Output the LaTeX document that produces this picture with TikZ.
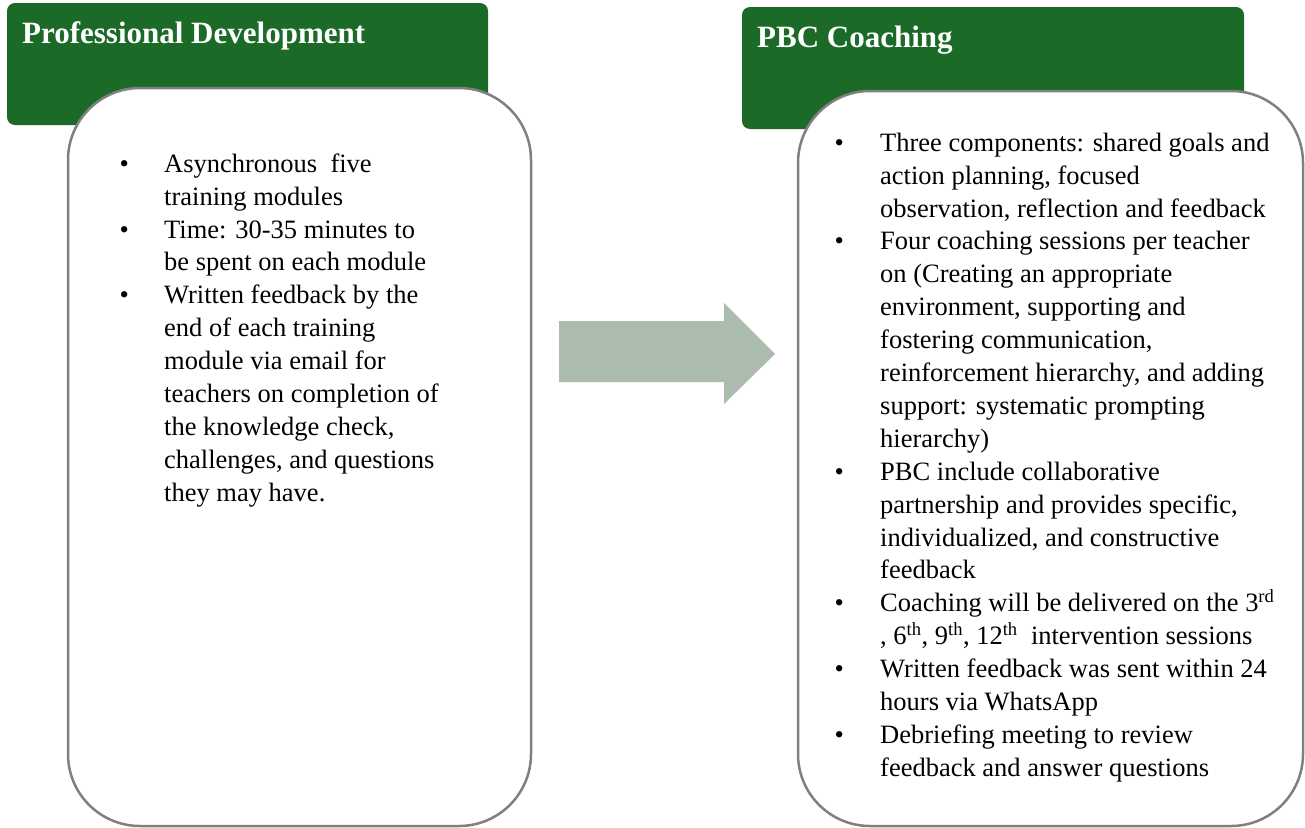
\documentclass[tikz,border=0pt]{standalone}
\usepackage{fontspec}
\setmainfont{Liberation Serif}
\definecolor{hdrgreen}{RGB}{28,106,40}
\definecolor{boxgray}{RGB}{128,128,128}
\definecolor{arrowsage}{RGB}{171,188,173}
\newcommand{\bul}[1]{\llap{\textbullet\hspace{#1}}}
\begin{document}
\begin{tikzpicture}[x=1pt,y=-1pt,
  header/.style={fill=hdrgreen,draw=none,rounded corners=8pt,inner sep=0pt},
  panel/.style={fill=white,draw=boxgray,line width=2.5pt,rounded corners=72pt,inner sep=0pt},
  htitle/.style={text=white,font=\fontsize{31}{37}\selectfont\bfseries,inner sep=0pt,anchor=base west},
  body/.style={font=\fontsize{26.5}{32.9}\selectfont,align=left,inner sep=0pt,anchor=north west,text=black},
  blockarrow/.style={fill=arrowsage,draw=none}]
\useasboundingbox (0,0) rectangle (1305,827);

% Left column
\node[header,minimum width=481pt,minimum height=122pt] (pdhead) at (247.5,64) {};
\node[htitle] (pdtitle) at (22,43) {Professional Development};
\node[panel,minimum width=463pt,minimum height=738pt] (pdbox) at (299.5,457) {};
\node[body] (pdtext) at (164,152) {\rule{0pt}{20pt}\bul{35.4pt}Asynchronous\ \ five\\
training modules\\
\bul{35.4pt}Time: 30-35 minutes to\\
be spent on each module\\
\bul{35.4pt}Written feedback by the\\
end of each training\\
module via email for\\
teachers on completion of\\
the knowledge check,\\
challenges, and questions\\
they may have.};

% Right column
\node[header,minimum width=502pt,minimum height=122pt] (pbchead) at (993,68) {};
\node[htitle] (pbctitle) at (757,47) {PBC Coaching};
\node[panel,minimum width=505pt,minimum height=735pt] (pbcbox) at (1050.5,458.5) {};
\node[body] (pbctext) at (880,131) {\rule{0pt}{20pt}\bul{36.4pt}Three components: shared goals and\\
action planning, focused\\
observation, reflection and feedback\\
\bul{36.4pt}Four coaching sessions per teacher\\
on (Creating an appropriate\\
environment, supporting and\\
fostering communication,\\
reinforcement hierarchy, and adding\\
support: systematic prompting\\
hierarchy)\\
\bul{36.4pt}PBC include collaborative\\
partnership and provides specific,\\
individualized, and constructive\\
feedback\\
\bul{36.4pt}Coaching will be delivered on the 3\textsuperscript{rd}\\
, 6\textsuperscript{th}, 9\textsuperscript{th}, 12\textsuperscript{th}\ \ intervention sessions\\
\bul{36.4pt}Written feedback was sent within 24\\
hours via WhatsApp\\
\bul{36.4pt}Debriefing meeting to review\\
feedback and answer questions};

% Block arrow between panels
\fill[blockarrow] (559,321) -- (724,321) -- (724,303) -- (775,354) -- (724,404) -- (724,382) -- (559,382) -- cycle;
\end{tikzpicture}
\end{document}
